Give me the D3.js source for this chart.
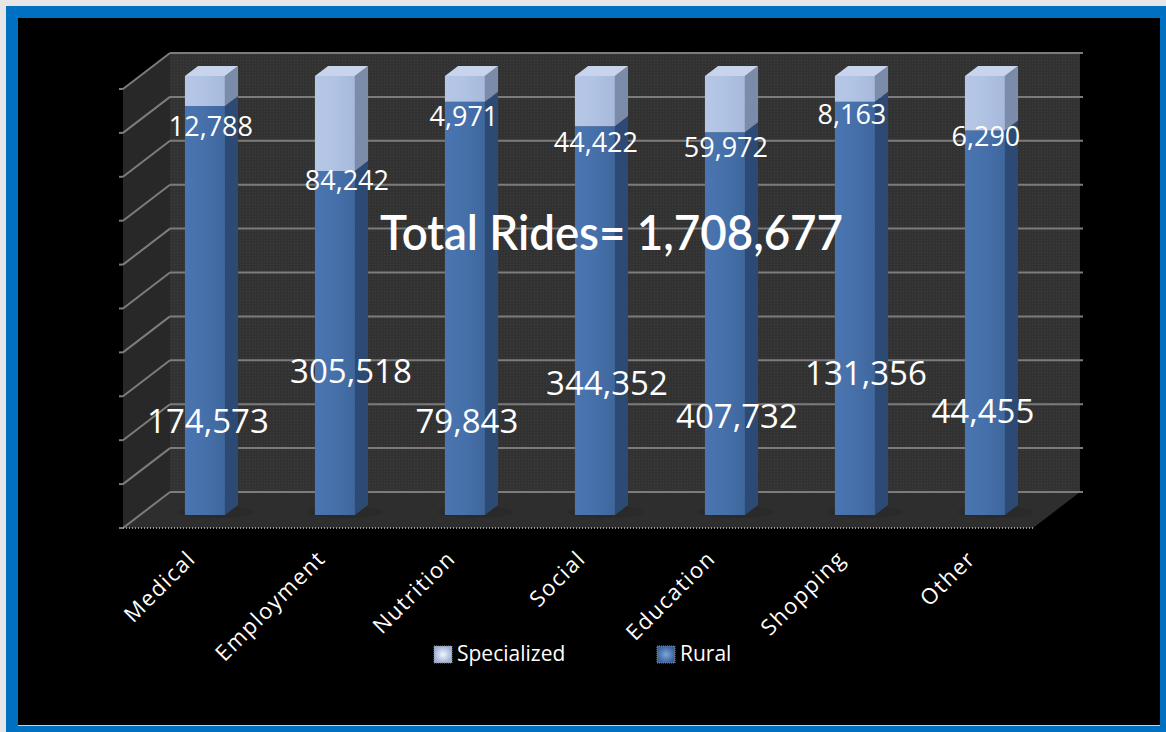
<!DOCTYPE html>
<html>
<head>
<meta charset="utf-8">
<script src="https://cdn.jsdelivr.net/npm/d3@7"></script>
<style>
  html, body { margin: 0; padding: 0; background: #e6e6e6; }
  svg { display: block; }
</style>
</head>
<body>
<div id="chart"></div>
<script>
// rides by trip purpose, split rural / specialized (100% stacked 3D columns)
const categories = ["Medical", "Employment", "Nutrition", "Social", "Education", "Shopping", "Other"];
const rural = [174573, 305518, 79843, 344352, 407732, 131356, 44455];
const specialized = [12788, 84242, 4971, 44422, 59972, 8163, 6290];
const seriesNames = ["Specialized", "Rural"];
const yTicks = d3.range(0, 1.0001, 0.1);

// where Excel dropped the labels (share of column height / pixel nudges)
const ruralLabelAt = [0.187, 0.30, 0.187, 0.273, 0.198, 0.296, 0.21];
const ruralLabelDx = [3, 16, 2, 12, 12, 11, -2];
const specLabelDx = [6, 12, -1, 1, 1, -3, 1];
const specLabelDy = [30, 19, 24, 26, 25, 22, 16];

const W = 1166, H = 732;
const fmt = d3.format(",");
const total = d3.sum(rural) + d3.sum(specialized);

// back wall box + depth offset of the 3D floor
const wall = { x0: 170, x1: 1080, top: 53, bottom: 492 };
const depth = { dx: -47, dy: 36 };
const zFront = 0.64, zBack = 0.36;

const x = d3.scaleBand().domain(categories).range([wall.x0, wall.x1]);
const y = d3.scaleLinear().domain([0, 1]).range([wall.bottom, wall.top]);
const proj = (xb, v, z) => [xb + depth.dx * z, y(v) + depth.dy * z];

const svg = d3.select("#chart").append("svg")
    .attr("width", W)
    .attr("height", H);

const defs = svg.append("defs");
const pat = defs.append("pattern").attr("id", "dots")
    .attr("width", 3).attr("height", 3).attr("patternUnits", "userSpaceOnUse");
pat.append("rect").attr("width", 3).attr("height", 3).attr("fill", "#323232");
pat.append("rect").attr("width", 1).attr("height", 1).attr("fill", "#3e3e3e");

function hgrad(id, stops) {
    const g = defs.append("linearGradient").attr("id", id)
        .attr("x1", 0).attr("x2", 1).attr("y1", 0).attr("y2", 0);
    stops.forEach(([o, c]) => g.append("stop").attr("offset", o).attr("stop-color", c));
}
hgrad("ruralFront", [[0, "#4a75b0"], [0.5, "#4670aa"], [1, "#3f679e"]]);
hgrad("specFront", [[0, "#b6c7e6"], [0.5, "#b1c3e3"], [1, "#a6b9dc"]]);
const rg = defs.append("radialGradient").attr("id", "swSpec");
rg.append("stop").attr("offset", 0).attr("stop-color", "#f2f5fb");
rg.append("stop").attr("offset", 1).attr("stop-color", "#9fb2d8");
const rg2 = defs.append("radialGradient").attr("id", "swRural");
rg2.append("stop").attr("offset", 0).attr("stop-color", "#7ea4dc");
rg2.append("stop").attr("offset", 1).attr("stop-color", "#3a6399");

// frame
svg.append("rect").attr("x", 6).attr("y", 6).attr("width", W - 6).attr("height", H - 6).attr("fill", "#0070c0");
svg.append("rect").attr("x", 18).attr("y", 18).attr("width", 1142).attr("height", 707).attr("fill", "#000");
svg.append("line").attr("x1", 18).attr("x2", 1160).attr("y1", 725.5).attr("y2", 725.5)
    .attr("stroke", "#d0d0d0").attr("stroke-width", 1);

const line = d3.line();
const poly = pts => line(pts) + "Z";

// walls and floor
const plot = svg.append("g");
plot.append("path")
    .attr("d", poly([proj(wall.x0, 1, 0), proj(wall.x0, 0, 0), proj(wall.x0, 0, 1), proj(wall.x0, 1, 1)]))
    .attr("fill", "#282828");
plot.append("path")
    .attr("d", poly([proj(wall.x0, 0, 0), proj(wall.x1, 0, 0), proj(wall.x1, 0, 1), proj(wall.x0, 0, 1)]))
    .attr("fill", "#2e2e2e");
plot.append("rect")
    .attr("x", wall.x0).attr("y", wall.top)
    .attr("width", wall.x1 - wall.x0).attr("height", wall.bottom - wall.top)
    .attr("fill", "url(#dots)");

// gridlines on back wall + left wall
const grid = plot.append("g").attr("stroke", "#7c7c7c").attr("stroke-width", 2).attr("fill", "none");
yTicks.forEach(t => {
    grid.append("path").attr("d", line([[wall.x0, y(t)], [wall.x1 + 3, y(t)]]));
    grid.append("path").attr("d", line([proj(wall.x0, t, 0), proj(wall.x0, t, 1)]));
    grid.append("path").attr("d", line([proj(wall.x0, t, 1), [proj(wall.x0, t, 1)[0] - 4, y(t) + depth.dy]]));
});
// floor front edge (dotted)
plot.append("path")
    .attr("d", line([proj(wall.x0, 0, 1), proj(wall.x1, 0, 1)]))
    .attr("stroke", "#9a9a9a").attr("stroke-width", 2).attr("stroke-dasharray", "1,2");

// columns
const barHalf = 20;
const rows = categories.map((c, i) => {
    const tot = rural[i] + specialized[i];
    return { c, i, ruralShare: rural[i] / tot, specShare: specialized[i] / tot };
});

const bars = plot.append("g");
rows.forEach(d => {
    const xc = x(d.c) + x.bandwidth() / 2;
    const xl = xc - barHalf, xr = xc + barHalf;
    const segs = [
        { v0: 0, v1: d.ruralShare, front: "url(#ruralFront)", side: "#2c4a74", top: "#5a82bd" },
        { v0: d.ruralShare, v1: 1, front: "url(#specFront)", side: "#7b8cab", top: "#c8d4ec" }
    ];
    const g = bars.append("g");
    // faint shadow on floor
    const [sx, sy] = proj(xc, 0, (zFront + zBack) / 2);
    g.append("ellipse")
        .attr("cx", sx + 4).attr("cy", sy + 2)
        .attr("rx", 38).attr("ry", 6).attr("fill", "#222").attr("opacity", 0.35);
    segs.forEach((s, k) => {
        g.append("path")
            .attr("d", poly([proj(xr, s.v0, zFront), proj(xr, s.v0, zBack), proj(xr, s.v1, zBack), proj(xr, s.v1, zFront)]))
            .attr("fill", s.side);
        g.append("path")
            .attr("d", poly([proj(xl, s.v0, zFront), proj(xr, s.v0, zFront), proj(xr, s.v1, zFront), proj(xl, s.v1, zFront)]))
            .attr("fill", s.front);
        if (k === segs.length - 1) {
            g.append("path")
                .attr("d", poly([proj(xl, 1, zFront), proj(xr, 1, zFront), proj(xr, 1, zBack), proj(xl, 1, zBack)]))
                .attr("fill", s.top);
        }
    });
});

// data labels
const labels = svg.append("g")
    .attr("fill", "#fff")
    .attr("font-family", "'Open Sans', 'Noto Sans', sans-serif")
    .attr("text-anchor", "middle");

rows.forEach(d => {
    const xc = x(d.c) + x.bandwidth() / 2;
    const [fx, fyBoundary] = proj(xc, d.ruralShare, zFront);
    labels.append("text")
        .attr("x", fx + specLabelDx[d.i])
        .attr("y", fyBoundary + specLabelDy[d.i])
        .attr("font-size", 27)
        .text(fmt(specialized[d.i]));
    const [rx, ry] = proj(xc, ruralLabelAt[d.i], zFront);
    labels.append("text")
        .attr("x", rx + ruralLabelDx[d.i])
        .attr("y", ry)
        .attr("font-size", 33)
        .text(fmt(rural[d.i]));
});

// title
svg.append("text")
    .attr("x", 380).attr("y", 250)
    .attr("fill", "#fff")
    .attr("font-family", "Lato, 'Open Sans', sans-serif")
    .attr("font-weight", 600)
    .attr("font-size", 48)
    .attr("textLength", 463)
    .attr("lengthAdjust", "spacingAndGlyphs")
    .text(`Total Rides= ${fmt(total)}`);

// category axis labels (rotated)
const cat = svg.append("g")
    .attr("fill", "#fff")
    .attr("font-family", "'Open Sans', 'Noto Sans', sans-serif")
    .attr("font-size", 22)
    .attr("letter-spacing", 1.5)
    .attr("text-anchor", "end");
categories.forEach(c => {
    const xc = x(c) + x.bandwidth() / 2;
    const [ax] = proj(xc, 0, zFront);
    cat.append("text")
        .attr("transform", `translate(${ax - 8},560) rotate(-45)`)
        .text(c);
});

// legend
const legendX = [434, 657];
const legend = svg.append("g")
    .attr("font-family", "'Open Sans', 'Noto Sans', sans-serif")
    .attr("font-size", 21)
    .attr("fill", "#fff");
seriesNames.forEach((n, i) => {
    legend.append("rect")
        .attr("x", legendX[i]).attr("y", 646)
        .attr("width", 18).attr("height", 17)
        .attr("fill", i === 0 ? "url(#swSpec)" : "url(#swRural)")
        .attr("stroke", "#888").attr("stroke-dasharray", "1,1");
    legend.append("text")
        .attr("x", legendX[i] + 23).attr("y", 661)
        .text(n);
});
</script>
</body>
</html>
